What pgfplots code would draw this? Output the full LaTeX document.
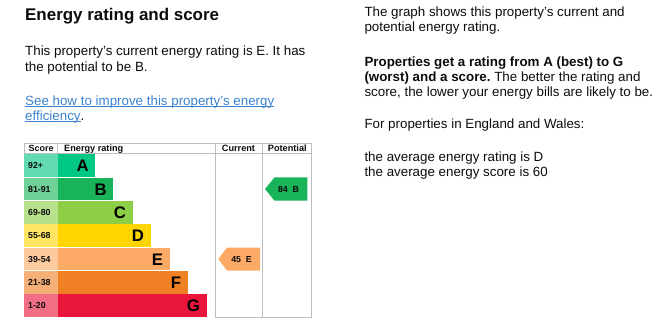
\documentclass[border=0pt]{standalone}
\usepackage{pgfplots}
\pgfplotsset{compat=1.18}
\usepackage{fontspec}
\setmainfont{Liberation Sans}
\frenchspacing
\newsavebox{\ulbox}
\newcommand{\ulin}[1]{\sbox{\ulbox}{#1}\rlap{\rule[-1.6pt]{\wd\ulbox}{0.7pt}}\usebox{\ulbox}}
\definecolor{txt}{HTML}{0B0C0C}
\definecolor{lnk}{HTML}{3B82CC}
\definecolor{gridc}{HTML}{BDBDBD}
\definecolor{cA}{HTML}{00C781}
\definecolor{cB}{HTML}{19B459}
\definecolor{cC}{HTML}{8DCE46}
\definecolor{cD}{HTML}{FFD500}
\definecolor{cE}{HTML}{FCAA65}
\definecolor{cF}{HTML}{EF8023}
\definecolor{cG}{HTML}{E9153B}
\newcommand{\bodyf}{\fontsize{13.4}{15}\selectfont}
\newcommand{\rowbar}[5]{% top, right end, colour, letter, score label
  \addplot[fill=#3!62!white, draw=none] coordinates {(24.3,#1) (57.7,#1) (57.7,#1+22.6) (24.3,#1+22.6)};
  \addplot[fill=#3, draw=none] coordinates {(57.7,#1) (#2,#1) (#2,#1+22.6) (57.7,#1+22.6)};
  \node[anchor=base east, inner sep=0pt, font=\fontsize{16.8}{18}\bfseries\selectfont, text=black] at (axis cs:#2-6.5,#1+17.4) {#4};
  \node[anchor=base west, inner sep=0pt, font=\fontsize{8.8}{10}\bfseries\selectfont, text=txt] at (axis cs:28,#1+14.5) {#5};
}
\begin{document}
\begin{tikzpicture}
\begin{axis}[
  scale only axis, width=656bp, height=328bp,
  xmin=0, xmax=656, ymin=0, ymax=328, y dir=reverse,
  axis lines=none, clip=false,
]
% score cells and rating bars
\rowbar{154.3}{95.3}{cA}{A}{92+}
\rowbar{177.6}{113.3}{cB}{B}{81-91}
\rowbar{201.0}{132.7}{cC}{C}{69-80}
\rowbar{224.4}{150.7}{cD}{D}{55-68}
\rowbar{247.7}{169.7}{cE}{E}{39-54}
\rowbar{271.1}{187.7}{cF}{F}{21-38}
\rowbar{294.4}{206.7}{cG}{G}{1-20}
% table grid
\addplot[gridc, line width=0.9pt] coordinates {(24.3,143.3) (311.5,143.3) (311.5,317.8) (215.8,317.8)};
\addplot[gridc, line width=0.9pt] coordinates {(24.3,153.8) (311.5,153.8)};
\addplot[gridc, line width=0.9pt] coordinates {(24.3,143.3) (24.3,154)};
\addplot[gridc, line width=0.9pt] coordinates {(57.7,143.3) (57.7,154)};
\addplot[gridc, line width=0.9pt] coordinates {(215.8,143.3) (215.8,317.8)};
\addplot[gridc, line width=0.9pt] coordinates {(262.5,143.3) (262.5,317.8)};
% header text
\node[anchor=base west, inner sep=0pt, font=\fontsize{9}{10}\bfseries\selectfont, text=txt] at (axis cs:28.5,151.2) {Score};
\node[anchor=base west, inner sep=0pt, font=\fontsize{9.2}{10}\bfseries\selectfont, text=txt] at (axis cs:64,151.2) {Energy rating};
\node[anchor=base, inner sep=0pt, font=\fontsize{9.2}{10}\bfseries\selectfont, text=txt] at (axis cs:238.5,151.2) {Current};
\node[anchor=base, inner sep=0pt, font=\fontsize{9.2}{10}\bfseries\selectfont, text=txt] at (axis cs:287.3,151.2) {Potential};
% current (45, E) and potential (84, B) arrows
\addplot[fill=cE, draw=none] coordinates {(218.3,259.0) (227.0,247.5) (260.0,247.5) (260.0,270.5) (227.0,270.5)};
\node[anchor=base, inner sep=0pt, font=\fontsize{8.8}{10}\bfseries\selectfont, text=txt] at (axis cs:241.5,262.2) {45\ \ E};
\addplot[fill=cB, draw=none] coordinates {(265.0,189.0) (274.5,177.4) (307.3,177.4) (307.3,200.7) (274.5,200.7)};
\node[anchor=base, inner sep=0pt, font=\fontsize{8.8}{10}\bfseries\selectfont, text=txt] at (axis cs:288.5,192.2) {84\ \ B};
% left text
\node[anchor=base west, inner sep=0pt, font=\fontsize{17}{20}\bfseries\selectfont, text=txt] at (axis cs:25,21) {Energy rating and score};
\node[anchor=base west, inner sep=0pt, font=\bodyf, text=txt] at (axis cs:25,56) {This property’s current energy rating is E. It has};
\node[anchor=base west, inner sep=0pt, font=\bodyf, text=txt] at (axis cs:25,71) {the potential to be B.};
\node[anchor=base west, inner sep=0pt, font=\bodyf, text=lnk] at (axis cs:25,105) {\ulin{See how to improve this property’s energy}};
\node[anchor=base west, inner sep=0pt, font=\bodyf, text=lnk] at (axis cs:25,120) {\ulin{efficiency}\textcolor{txt}{.}};
% right text
\node[anchor=base west, inner sep=0pt, font=\bodyf, text=txt] at (axis cs:364.3,17) {The graph shows this property’s current and};
\node[anchor=base west, inner sep=0pt, font=\bodyf, text=txt] at (axis cs:364.3,32) {potential energy rating.};
\node[anchor=base west, inner sep=0pt, font=\bodyf, text=txt] at (axis cs:364.3,66) {\textbf{Properties get a rating from A (best) to G}};
\node[anchor=base west, inner sep=0pt, font=\bodyf, text=txt] at (axis cs:364.3,81) {\textbf{(worst) and a score.} The better the rating and};
\node[anchor=base west, inner sep=0pt, font=\bodyf, text=txt] at (axis cs:364.3,96) {score, the lower your energy bills are likely to be.};
\node[anchor=base west, inner sep=0pt, font=\bodyf, text=txt] at (axis cs:364.3,128) {For properties in England and Wales:};
\node[anchor=base west, inner sep=0pt, font=\bodyf, text=txt] at (axis cs:364.3,161) {the average energy rating is D};
\node[anchor=base west, inner sep=0pt, font=\bodyf, text=txt] at (axis cs:364.3,176) {the average energy score is 60};
\end{axis}
\pgfresetboundingbox
\path[use as bounding box] (0,0) rectangle (656bp,328bp);
\end{tikzpicture}
\end{document}
